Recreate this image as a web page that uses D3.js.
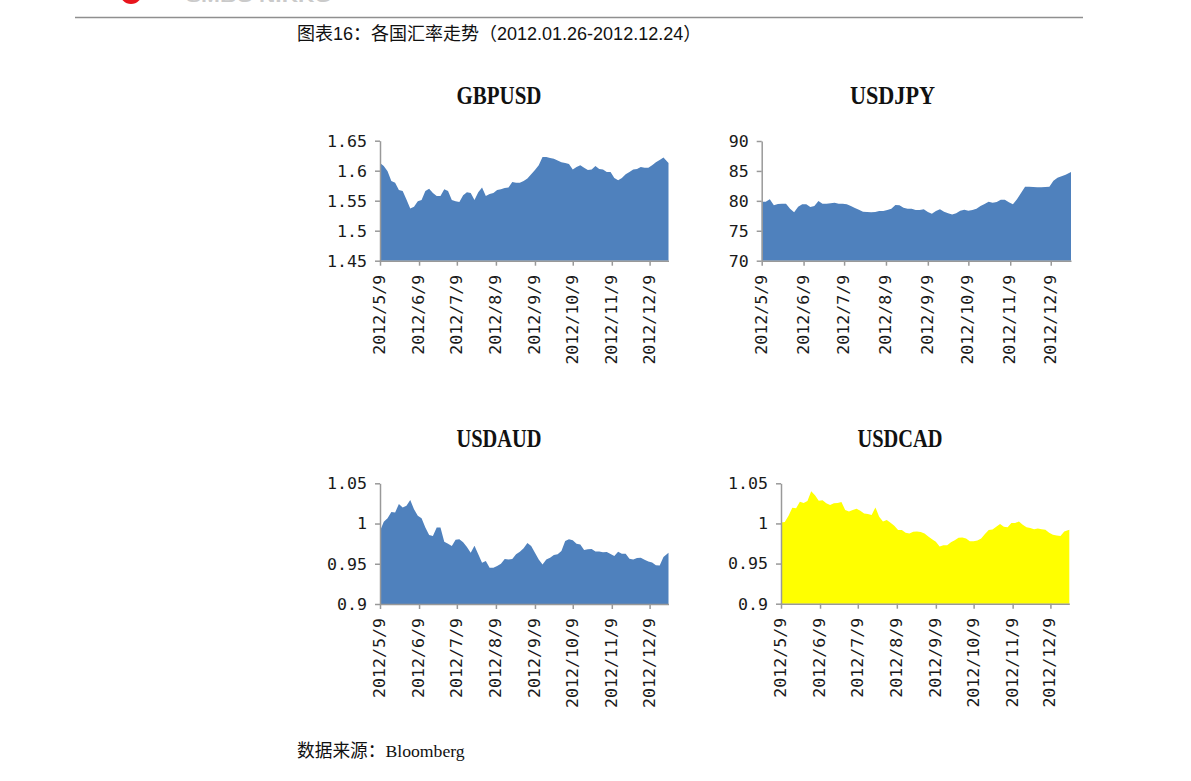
<!DOCTYPE html>
<html>
<head>
<meta charset="utf-8">
<script src="https://cdn.jsdelivr.net/npm/d3@7"></script>
<style>
body { margin: 0; background: #fff; }
svg { display: block; }
</style>
</head>
<body>
<svg id="chart" width="1191" height="781"></svg>
<script>
// sample dates (2012), one every 3 days
var dates = ["5/9","5/12","5/15","5/18","5/21","5/24","5/27","5/30","6/2","6/5",
    "6/8","6/11","6/14","6/17","6/20","6/23","6/26","6/29","7/2","7/5",
    "7/8","7/11","7/14","7/17","7/20","7/23","7/26","7/29","8/1","8/4",
    "8/7","8/10","8/13","8/16","8/19","8/22","8/25","8/28","8/31","9/3",
    "9/6","9/9","9/12","9/15","9/18","9/21","9/24","9/27","9/30","10/3",
    "10/6","10/9","10/12","10/15","10/18","10/21","10/24","10/27","10/30","11/2",
    "11/5","11/8","11/11","11/14","11/17","11/20","11/23","11/26","11/29","12/2",
    "12/5","12/8","12/11","12/14","12/17","12/20","12/24"];

var gbpusd = [1.613,1.608,1.599,1.583,1.580,1.568,1.566,1.552,1.537,1.540,
    1.549,1.551,1.566,1.570,1.563,1.558,1.558,1.569,1.566,1.551,
    1.549,1.548,1.559,1.564,1.563,1.551,1.564,1.572,1.558,1.561,
    1.563,1.568,1.569,1.571,1.572,1.581,1.580,1.580,1.583,1.587,
    1.594,1.601,1.609,1.623,1.623,1.621,1.620,1.617,1.614,1.613,
    1.611,1.602,1.606,1.609,1.605,1.601,1.602,1.608,1.603,1.602,
    1.598,1.598,1.588,1.584,1.588,1.594,1.598,1.602,1.603,1.606,
    1.605,1.605,1.609,1.614,1.618,1.622,1.613];

var usdjpy = [79.86,79.86,80.25,79.25,79.47,79.53,79.53,78.69,78.08,79.03,
    79.42,79.42,78.97,79.14,79.97,79.53,79.53,79.58,79.69,79.53,
    79.53,79.42,79.14,78.80,78.52,78.19,78.13,78.08,78.13,78.30,
    78.30,78.47,78.69,79.30,79.25,78.86,78.69,78.69,78.47,78.47,
    78.58,78.13,77.86,78.30,78.58,78.19,77.91,77.74,77.91,78.36,
    78.52,78.36,78.47,78.69,79.14,79.47,79.86,79.69,79.80,80.19,
    80.19,79.75,79.42,80.25,81.31,82.37,82.37,82.31,82.26,82.26,
    82.31,82.37,83.37,83.87,84.09,84.37,84.82];

var usdaud = [0.9908,1.0021,1.0067,1.0142,1.0138,1.0242,1.0200,1.0221,1.0292,1.0179,
    1.0096,1.0067,0.9950,0.9858,0.9846,0.9950,0.9950,0.9775,0.9750,0.9721,
    0.9800,0.9804,0.9767,0.9708,0.9638,0.9725,0.9617,0.9513,0.9533,0.9450,
    0.9450,0.9471,0.9500,0.9558,0.9554,0.9558,0.9617,0.9650,0.9692,0.9758,
    0.9721,0.9638,0.9554,0.9492,0.9554,0.9575,0.9608,0.9617,0.9658,0.9783,
    0.9804,0.9792,0.9750,0.9738,0.9671,0.9679,0.9683,0.9654,0.9654,0.9642,
    0.9646,0.9621,0.9596,0.9650,0.9625,0.9625,0.9563,0.9554,0.9571,0.9575,
    0.9550,0.9529,0.9517,0.9483,0.9479,0.9583,0.9638];

var usdcad = [1.0013,1.0017,1.0096,1.0196,1.0188,1.0271,1.0254,1.0279,1.0400,1.0350,
    1.0283,1.0288,1.0250,1.0229,1.0250,1.0254,1.0267,1.0167,1.0150,1.0167,
    1.0183,1.0158,1.0125,1.0117,1.0104,1.0200,1.0083,1.0025,1.0042,1.0008,
    0.9971,0.9917,0.9917,0.9883,0.9875,0.9896,0.9900,0.9892,0.9875,0.9838,
    0.9804,0.9771,0.9713,0.9729,0.9729,0.9767,0.9792,0.9821,0.9825,0.9813,
    0.9779,0.9779,0.9788,0.9813,0.9867,0.9917,0.9925,0.9958,0.9992,0.9958,
    0.9954,1.0004,1.0004,1.0025,0.9983,0.9954,0.9942,0.9929,0.9938,0.9929,
    0.9921,0.9883,0.9858,0.9850,0.9842,0.9900,0.9921];

var monthTicks = ["2012/5/9","2012/6/9","2012/7/9","2012/8/9","2012/9/9","2012/10/9","2012/11/9","2012/12/9"];
var gbpTicks = [1.45, 1.5, 1.55, 1.6, 1.65];
var jpyTicks = [70, 75, 80, 85, 90];
var audTicks = [0.9, 0.95, 1, 1.05];
var cadTicks = [0.9, 0.95, 1, 1.05];

var caption = "图表16：各国汇率走势（2012.01.26-2012.12.24）";
var source = "数据来源：";

var svg = d3.select("#chart");
var parseTick = d3.timeParse("%Y/%m/%d");
var parseDay = function(s) { return parseTick("2012/" + s); };
var dayDates = dates.map(parseDay);
var tickDates = monthTicks.map(parseTick);

// header remnants (cut off at the top of the page, as in the source)
svg.append("circle").attr("cx", 131).attr("cy", -7).attr("r", 11).attr("fill", "#e8141c");
svg.append("text").attr("x", 186).attr("y", 2)
    .style("font-family", "Liberation Sans").style("font-weight", "bold")
    .style("font-size", "16px").attr("fill", "#cacaca")
    .attr("textLength", 146).attr("lengthAdjust", "spacingAndGlyphs")
    .text("SMBC NIKKO");
svg.append("line").attr("x1", 75).attr("x2", 1083).attr("y1", 17.5).attr("y2", 17.5)
    .attr("stroke", "#8f8f8f").attr("stroke-width", 1.6);

svg.append("text").attr("x", 297).attr("y", 40)
    .style("font-family", "'Liberation Sans', 'Noto Sans CJK SC'")
    .style("font-size", "18px").attr("fill", "#111")
    .text(caption);

var foot = svg.append("text").attr("x", 297).attr("y", 757)
    .style("font-size", "17.7px").attr("fill", "#111");
foot.append("tspan").style("font-family", "'Noto Sans CJK SC'").text(source);
foot.append("tspan").style("font-family", "'Liberation Serif'").text("Bloomberg");

var panels = [
    {name: "GBPUSD", values: gbpusd, ticks: gbpTicks, color: "#4f81bd",
     x0: 380, x1: 668.5, y0: 140.7, y1: 260.7, tx: 499, ty: 103.5},
    {name: "USDJPY", values: usdjpy, ticks: jpyTicks, color: "#4f81bd",
     x0: 761.7, x1: 1071, y0: 141, y1: 260.7, tx: 892.5, ty: 103.5},
    {name: "USDAUD", values: usdaud, ticks: audTicks, color: "#4f81bd",
     x0: 380, x1: 668.5, y0: 483.3, y1: 604, tx: 499, ty: 447},
    {name: "USDCAD", values: usdcad, ticks: cadTicks, color: "#ffff00",
     x0: 781, x1: 1069.3, y0: 483.3, y1: 603.7, tx: 900, ty: 447}
];

panels.forEach(function(p) {
    var g = svg.append("g");
    var x = d3.scaleTime()
        .domain([dayDates[0], dayDates[dayDates.length - 1]])
        .range([p.x0, p.x1]);
    var y = d3.scaleLinear()
        .domain(d3.extent(p.ticks))
        .range([p.y1, p.y0]);

    var pts = dayDates.map(function(d, i) { return {date: d, v: p.values[i]}; });
    var area = d3.area()
        .x(function(d) { return x(d.date); })
        .y0(p.y1)
        .y1(function(d) { return y(d.v); });

    g.append("path").datum(pts).attr("d", area).attr("fill", p.color);

    g.append("text").attr("x", p.tx).attr("y", p.ty)
        .attr("text-anchor", "middle")
        .style("font-family", "'Liberation Serif'").style("font-weight", "bold")
        .style("font-size", "25px").attr("fill", "#111")
        .attr("textLength", 85).attr("lengthAdjust", "spacingAndGlyphs")
        .text(p.name);

    var yAxis = g.append("g").attr("transform", "translate(" + p.x0 + ",0)")
        .call(d3.axisLeft(y).tickValues(p.ticks).tickSize(5).tickSizeOuter(0).tickPadding(8)
            .tickFormat(function(d) { return String(+d.toFixed(2)); }));

    var xAxis = g.append("g").attr("transform", "translate(0," + p.y1 + ")")
        .call(d3.axisBottom(x).tickValues(tickDates).tickSize(5).tickSizeOuter(0)
            .tickFormat(function(d, i) { return monthTicks[i]; }));

    xAxis.selectAll("text")
        .attr("transform", "rotate(-90)")
        .attr("text-anchor", "end")
        .attr("x", -14).attr("y", 4.5).attr("dy", 0);

    [xAxis, yAxis].forEach(function(a) {
        a.select(".domain").attr("stroke", "#999").attr("stroke-width", 1.5);
        a.selectAll(".tick line").attr("stroke", "#999").attr("stroke-width", 1.5);
        a.selectAll("text").attr("fill", "#1a1a1a")
            .style("font-family", "'DejaVu Sans Mono'").style("font-size", "16.6px");
    });
});
</script>
</body>
</html>
